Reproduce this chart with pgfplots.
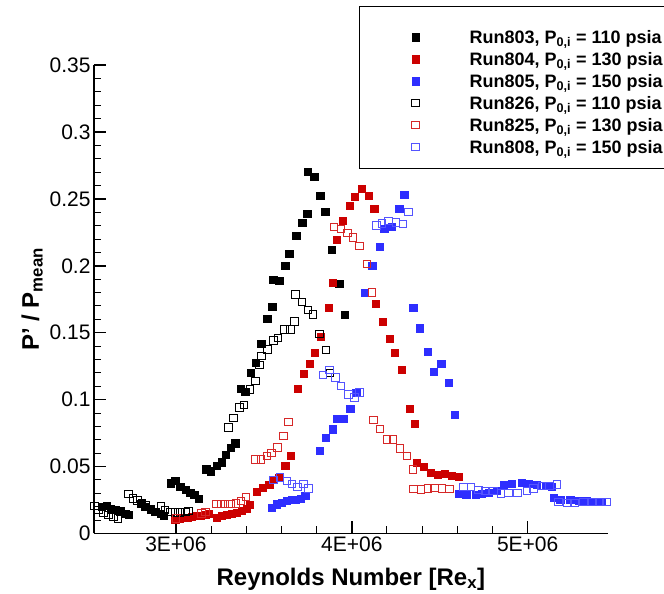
\documentclass[border=0pt]{standalone}
\usepackage{fontspec}
\setmainfont{Liberation Sans}
\usepackage{pgfplots}
\usepackage{pgfplotstable}
\pgfplotsset{compat=1.18}

\definecolor{rfill}{RGB}{204,0,0}
\definecolor{bfill}{RGB}{46,46,255}
\definecolor{ropen}{RGB}{214,40,40}
\definecolor{bopen}{RGB}{84,84,255}

% Fluctuation ratio P'/P_mean against Reynolds number (x in millions)
\pgfplotstableread{
x y
2.579 0.0200
2.608 0.0205
2.630 0.0182
2.655 0.0175
2.683 0.0167
2.712 0.0150
2.731 0.0138
2.797 0.0225
2.825 0.0200
2.854 0.0182
2.882 0.0162
2.911 0.0145
2.930 0.0130
2.968 0.0375
2.996 0.0394
3.024 0.0349
3.053 0.0330
3.081 0.0304
3.104 0.0287
3.128 0.0262
3.172 0.0481
3.199 0.0466
3.233 0.0504
3.258 0.0532
3.284 0.0586
3.309 0.0644
3.337 0.0674
3.366 0.1082
3.394 0.1059
3.426 0.1201
3.451 0.1276
3.485 0.1421
3.519 0.1603
3.547 0.1695
3.553 0.1897
3.587 0.1887
3.621 0.2001
3.644 0.2091
3.684 0.2223
3.718 0.2323
3.746 0.2390
3.750 0.2704
3.786 0.2667
3.820 0.2525
3.848 0.2405
3.887 0.2122
3.928 0.1867
3.957 0.1635
}\runA

\pgfplotstableread{
x y
2.996 0.0105
3.020 0.0110
3.043 0.0115
3.066 0.0120
3.091 0.0125
3.115 0.0130
3.142 0.0135
3.167 0.0143
3.185 0.0150
3.233 0.0120
3.262 0.0130
3.290 0.0138
3.318 0.0145
3.347 0.0155
3.375 0.0170
3.400 0.0188
3.418 0.0212
3.460 0.0312
3.495 0.0342
3.530 0.0362
3.555 0.0399
3.587 0.0419
3.621 0.0506
3.650 0.0579
3.694 0.1082
3.728 0.1192
3.762 0.1269
3.790 0.1351
3.824 0.1470
3.866 0.1687
3.893 0.1874
3.915 0.2196
3.949 0.2338
3.989 0.2448
4.018 0.2517
4.057 0.2577
4.097 0.2525
4.127 0.2425
4.137 0.1715
4.177 0.1580
4.217 0.1453
4.245 0.1351
4.285 0.1222
4.330 0.0932
4.359 0.0820
4.370 0.0529
4.408 0.0499
4.450 0.0457
4.487 0.0442
4.527 0.0449
4.569 0.0429
4.607 0.0424
}\runB

\pgfplotstableread{
x y
3.546 0.0195
3.574 0.0218
3.603 0.0232
3.631 0.0244
3.659 0.0250
3.678 0.0255
3.707 0.0262
3.735 0.0280
3.815 0.0618
3.849 0.0715
3.889 0.0780
3.915 0.0855
3.955 0.0855
3.991 0.0930
4.025 0.1052
4.074 0.1800
4.116 0.2001
4.156 0.2141
4.184 0.2278
4.228 0.2293
4.269 0.2425
4.298 0.2530
4.349 0.1687
4.387 0.1535
4.433 0.1356
4.467 0.1207
4.508 0.1266
4.552 0.1124
4.586 0.0885
4.607 0.0300
4.650 0.0287
4.702 0.0287
4.740 0.0300
4.777 0.0307
4.825 0.0319
4.862 0.0362
4.910 0.0369
4.967 0.0379
5.005 0.0369
5.052 0.0362
5.100 0.0354
5.138 0.0349
5.147 0.0270
5.185 0.0255
5.242 0.0250
5.289 0.0244
5.337 0.0244
5.384 0.0237
5.422 0.0237
}\runC

\pgfplotstableread{
x y
2.536 0.0205
2.560 0.0175
2.588 0.0155
2.617 0.0138
2.645 0.0125
2.670 0.0113
2.731 0.0295
2.756 0.0262
2.782 0.0245
2.807 0.0225
2.831 0.0212
2.915 0.0200
2.939 0.0175
2.968 0.0162
2.996 0.0158
3.024 0.0158
3.053 0.0162
3.072 0.0170
3.299 0.0793
3.327 0.0865
3.362 0.0943
3.387 0.0960
3.422 0.1077
3.453 0.1139
3.475 0.1259
3.487 0.1328
3.521 0.1376
3.555 0.1441
3.580 0.1463
3.616 0.1526
3.650 0.1526
3.673 0.1583
3.680 0.1787
3.716 0.1732
3.752 0.1670
3.779 0.1638
3.816 0.1491
3.853 0.1371
3.877 0.1201
}\runD

\pgfplotstableread{
x y
3.000 0.0112
3.145 0.0150
3.167 0.0162
3.230 0.0220
3.256 0.0218
3.280 0.0220
3.309 0.0222
3.341 0.0225
3.370 0.0242
3.398 0.0274
3.451 0.0554
3.483 0.0554
3.517 0.0579
3.542 0.0603
3.578 0.0644
3.612 0.0728
3.640 0.0835
3.900 0.2293
3.938 0.2278
3.976 0.2248
4.006 0.2211
4.044 0.2151
4.086 0.2014
4.114 0.1802
4.123 0.0848
4.161 0.0780
4.200 0.0703
4.234 0.0703
4.275 0.0636
4.313 0.0579
4.347 0.0479
4.351 0.0332
4.393 0.0330
4.433 0.0337
4.470 0.0342
4.512 0.0337
4.554 0.0332
}\runE

\pgfplotstableread{
x y
3.555 0.0399
3.593 0.0419
3.631 0.0392
3.659 0.0369
3.691 0.0349
3.725 0.0369
3.754 0.0337
3.836 0.1184
3.873 0.1222
3.906 0.1167
3.938 0.1102
3.981 0.1040
4.014 0.1015
4.044 0.1055
4.139 0.2303
4.173 0.2318
4.209 0.2335
4.252 0.2325
4.290 0.2315
4.321 0.2405
4.635 0.0349
4.679 0.0349
4.720 0.0324
4.758 0.0319
4.806 0.0319
4.849 0.0300
4.891 0.0304
4.942 0.0304
4.995 0.0319
5.033 0.0337
5.081 0.0354
5.124 0.0354
5.166 0.0367
5.175 0.0237
5.223 0.0229
5.270 0.0229
5.317 0.0237
5.365 0.0237
5.412 0.0237
5.448 0.0237
}\runF

\begin{document}
\begin{tikzpicture}
\begin{axis}[
  at={(0,0)}, anchor=south west,
  scale only axis, width=513.7bp, height=468.2bp,
  xmin=2.534, xmax=5.455, ymin=0, ymax=0.35,
  clip=false,
  axis lines=left,
  axis line style={-, line width=1.5bp, black},
  tick align=inside,
  xtick={3,4,5}, xticklabels={3E+06,4E+06,5E+06},
  minor x tick num=4,
  ytick={0,0.05,0.1,0.15,0.2,0.25,0.3,0.35},
  yticklabels={0,0.05,0.1,0.15,0.2,0.25,0.3,0.35},
  minor y tick num=4,
  scaled ticks=false,
  major tick length=12bp, minor tick length=7.5bp,
  every major tick/.append style={line width=1.5bp, black},
  every minor tick/.append style={line width=1bp, black},
  tick label style={font=\fontsize{21bp}{25bp}\selectfont},
  xlabel={\bfseries Reynolds Number [Re\textsubscript{x}]},
  ylabel={\bfseries P’ / P\textsubscript{mean}},
  label style={font=\fontsize{24bp}{28bp}\selectfont},
  xlabel style={yshift=-9bp},
  legend style={
    at={(0.516,1.1264)}, anchor=north west,
    draw=black, line width=1bp, fill=white,
    inner xsep=20bp, inner ysep=10.4bp,
    font=\bfseries\fontsize{18bp}{22bp}\selectfont,
    nodes={inner sep=0pt, text height=17.4bp, text depth=4.6bp},
  },
  legend cell align=left,
  legend image code/.code={%
    \draw[#1] plot coordinates {(0bp,0bp)};
    \path (-35.5bp,0bp) (53.5bp,0bp);
  },
]
\addlegendimage{empty legend}
\addlegendentry[text height=0pt, text depth=0pt, minimum height=9.3bp]{}

\addplot[only marks, mark=square*, mark size=3.6bp, black, mark options={line width=0.3bp}] table {\runA};
\addlegendentry{Run803, P\textsubscript{0,i} = 110 psia}
\addplot[only marks, mark=square*, mark size=3.6bp, rfill, mark options={line width=0.3bp}] table {\runB};
\addlegendentry{Run804, P\textsubscript{0,i} = 130 psia}
\addplot[only marks, mark=square*, mark size=3.6bp, bfill, mark options={line width=0.3bp}] table {\runC};
\addlegendentry{Run805, P\textsubscript{0,i} = 150 psia}
\addplot[only marks, mark=square, mark size=3.7bp, black, mark options={line width=0.9bp}] table {\runD};
\addlegendentry{Run826, P\textsubscript{0,i} = 110 psia}
\addplot[only marks, mark=square, mark size=3.7bp, ropen, mark options={line width=0.9bp}] table {\runE};
\addlegendentry{Run825, P\textsubscript{0,i} = 130 psia}
\addplot[only marks, mark=square, mark size=3.7bp, bopen, mark options={line width=0.9bp}] table {\runF};
\addlegendentry{Run808, P\textsubscript{0,i} = 150 psia}
\end{axis}
\pgfresetboundingbox
\useasboundingbox (-94bp,-60.6bp) rectangle (570bp,533.4bp);
\end{tikzpicture}
\end{document}
